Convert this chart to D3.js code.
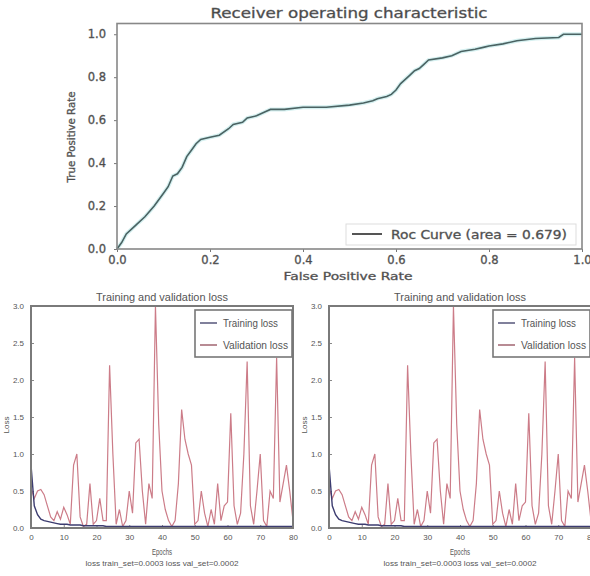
<!DOCTYPE html>
<html>
<head>
<meta charset="utf-8">
<script src="https://cdn.jsdelivr.net/npm/d3@7"></script>
<style>
  body { margin: 0; background: #fff; }
  svg { display: block; }
  .roc text { font-family: "DejaVu Sans", sans-serif; fill: #444; stroke: #666; stroke-width: 0.35; }
  .loss text { font-family: "Liberation Sans", "DejaVu Sans", sans-serif; fill: #555; }
</style>
</head>
<body>
<div id="chart"></div>
<script>
// ROC curve points
const rocFpr = [0, 0.01, 0.02, 0.04, 0.06, 0.08, 0.10, 0.11, 0.12, 0.13, 0.14, 0.15, 0.16, 0.17, 0.18,
  0.20, 0.22, 0.24, 0.25, 0.27, 0.28, 0.30, 0.32, 0.33, 0.36, 0.40, 0.45, 0.50, 0.53, 0.55, 0.56,
  0.58, 0.59, 0.60, 0.61, 0.62, 0.63, 0.64, 0.65, 0.66, 0.67, 0.70, 0.72, 0.74, 0.77, 0.79, 0.80,
  0.83, 0.86, 0.90, 0.95, 0.96, 1.0];
const rocTpr = [0, 0.03, 0.07, 0.11, 0.15, 0.20, 0.26, 0.29, 0.34, 0.35, 0.38, 0.43, 0.46, 0.49, 0.51,
  0.52, 0.53, 0.56, 0.58, 0.59, 0.61, 0.62, 0.64, 0.65, 0.65, 0.66, 0.66, 0.67, 0.68, 0.69, 0.70,
  0.71, 0.72, 0.74, 0.77, 0.79, 0.81, 0.83, 0.84, 0.86, 0.88, 0.89, 0.90, 0.92, 0.93, 0.94, 0.945,
  0.955, 0.97, 0.98, 0.985, 1.0, 1.0];
const rocTicks = [0, 0.2, 0.4, 0.6, 0.8, 1.0];
const rocLabel = "Roc Curve (area = 0.679)";

// loss per epoch (0..80)
const trainLoss = [0.85, 0.30, 0.18, 0.12, 0.10, 0.09, 0.08, 0.07, 0.06, 0.05,
  0.05, 0.05, 0.04, 0.04, 0.04, 0.04, 0.03, 0.03, 0.03, 0.03,
  0.03, 0.03, 0.03, 0.02, 0.02, 0.02, 0.02, 0.02, 0.02, 0.02,
  0.02, 0.02, 0.02, 0.02, 0.02, 0.02, 0.02, 0.02, 0.02, 0.02,
  0.02, 0.02, 0.02, 0.02, 0.02, 0.02, 0.02, 0.02, 0.02, 0.02,
  0.02, 0.02, 0.02, 0.02, 0.02, 0.02, 0.02, 0.02, 0.02, 0.02,
  0.02, 0.02, 0.02, 0.02, 0.02, 0.02, 0.02, 0.02, 0.02, 0.02,
  0.02, 0.02, 0.02, 0.02, 0.02, 0.02, 0.02, 0.02, 0.02, 0.02, 0.02];
const valLoss = [0.55, 0.40, 0.50, 0.52, 0.45, 0.30, 0.15, 0.10, 0.22, 0.12,
  0.28, 0.18, 0.05, 0.85, 1.00, 0.15, 0.02, 0.05, 0.60, 0.05,
  0.10, 0.40, 0.10, 0.10, 2.20, 1.00, 0.05, 0.25, 0.02, 0.10,
  0.50, 0.20, 1.15, 1.20, 0.50, 0.05, 0.60, 0.40, 3.00, 1.40,
  0.50, 0.25, 0.10, 0.02, 0.10, 0.60, 1.60, 1.20, 1.00, 0.85,
  0.05, 0.10, 0.50, 0.20, 0.02, 0.25, 0.05, 0.60, 0.10, 0.30,
  0.35, 1.55, 0.30, 0.05, 0.20, 1.00, 2.25, 0.30, 0.05, 0.50,
  1.00, 0.10, 0.02, 0.50, 0.40, 2.30, 0.35, 0.60, 0.85, 0.50, 0.10];
const epochTicks = [0, 10, 20, 30, 40, 50, 60, 70, 80];
const lossTicks = [0, 0.5, 1.0, 1.5, 2.0, 2.5, 3.0];
const lossSeries = ["Training loss", "Validation loss"];
const lossNote = "loss train_set=0.0003  loss val_set=0.0002";

const svg = d3.select("#chart").append("svg").attr("width", 590).attr("height", 576);

// squeeze/stretch a text to the width seen in the picture
function fit(sel, w) {
  sel.attr("textLength", w).attr("lengthAdjust", "spacingAndGlyphs");
}

// ---------- ROC ----------
const roc = svg.append("g").attr("class", "roc");
const x = d3.scaleLinear().domain([0, 1]).range([117, 582]);
const y = d3.scaleLinear().domain([0, 1.05]).range([249, 23.5]);

roc.append("g")
  .attr("transform", `translate(0,${y(0)})`)
  .call(d3.axisBottom(x).tickValues(rocTicks).tickFormat(d3.format(".1f")).tickSize(3).tickPadding(4))
  .call(g => g.select(".domain").remove())
  .call(g => g.selectAll("line").attr("stroke", "#777"))
  .call(g => g.selectAll("text").attr("font-size", 11.5));

roc.append("g")
  .attr("transform", `translate(${x(0)},0)`)
  .call(d3.axisLeft(y).tickValues(rocTicks).tickFormat(d3.format(".1f")).tickSize(3).tickPadding(8))
  .call(g => g.select(".domain").remove())
  .call(g => g.selectAll("line").attr("stroke", "#777"))
  .call(g => g.selectAll("text").attr("font-size", 11.5));

const rocPts = rocFpr.map((d, i) => [d, rocTpr[i]]);
const rocLine = d3.line().x(d => x(d[0])).y(d => y(d[1]));
roc.append("path").datum(rocPts).attr("d", rocLine)
  .attr("fill", "none").attr("stroke", "#d5f0f0").attr("stroke-width", 4);
roc.append("path").datum(rocPts).attr("d", rocLine)
  .attr("fill", "none").attr("stroke", "#4a6262").attr("stroke-width", 1.6);

roc.append("rect")
  .attr("x", x(0)).attr("y", y(1.05))
  .attr("width", x(1) - x(0)).attr("height", y(0) - y(1.05))
  .attr("fill", "none").attr("stroke", "#888").attr("stroke-width", 1.6);

// legend
const lg = roc.append("g");
lg.append("rect").attr("x", 346).attr("y", 224).attr("width", 230).attr("height", 21)
  .attr("fill", "#fff").attr("stroke", "#ddd").attr("stroke-width", 1);
lg.append("line").attr("x1", 352).attr("x2", 382).attr("y1", 234).attr("y2", 234)
  .attr("stroke", "#555").attr("stroke-width", 2);
lg.append("text").attr("x", 391).attr("y", 238.5).attr("font-size", 11.5)
  .text(rocLabel).call(fit, 176);

roc.append("text").attr("x", 349).attr("y", 18).attr("text-anchor", "middle")
  .attr("font-size", 13.5).text("Receiver operating characteristic").call(fit, 277);
roc.append("text").attr("x", 348).attr("y", 280).attr("text-anchor", "middle")
  .attr("font-size", 11).text("False Positive Rate").call(fit, 129);
roc.append("text").attr("transform", "translate(75,137) rotate(-90)").attr("text-anchor", "middle")
  .attr("font-size", 10).text("True Positive Rate").call(fit, 91);

// ---------- loss panels ----------
function lossPanel(left) {
  const g = svg.append("g").attr("class", "loss");
  const lx = d3.scaleLinear().domain([0, 80]).range([left, left + 262]);
  const ly = d3.scaleLinear().domain([0, 3]).range([528, 306]);

  g.append("g")
    .attr("transform", `translate(0,${ly(0)})`)
    .call(d3.axisBottom(lx).tickValues(epochTicks).tickSize(-3).tickPadding(6))
    .call(a => a.select(".domain").remove())
    .call(a => a.selectAll("line").attr("stroke", "#888"))
    .call(a => a.selectAll("text").attr("font-size", 8).attr("fill", "#666"));

  g.append("g")
    .attr("transform", `translate(${left},0)`)
    .call(d3.axisLeft(ly).tickValues(lossTicks).tickFormat(d3.format(".1f")).tickSize(-3).tickPadding(7))
    .call(a => a.select(".domain").remove())
    .call(a => a.selectAll("line").attr("stroke", "#888"))
    .call(a => a.selectAll("text").attr("font-size", 8).attr("fill", "#666"));

  const line = d3.line().x((d, i) => lx(i)).y(d => ly(d));
  g.append("path").datum(valLoss).attr("d", line)
    .attr("fill", "none").attr("stroke", "#cc7c88").attr("stroke-width", 1.2);
  g.append("path").datum(trainLoss).attr("d", line)
    .attr("fill", "none").attr("stroke", "#3c3c70").attr("stroke-width", 1.4);

  g.append("rect")
    .attr("x", lx(0)).attr("y", ly(3))
    .attr("width", lx(80) - lx(0)).attr("height", ly(0) - ly(3))
    .attr("fill", "none").attr("stroke", "#7a7a7a").attr("stroke-width", 2);

  // legend
  const lx1 = lx(80) - 98;
  g.append("rect").attr("x", lx1).attr("y", 310).attr("width", 97).attr("height", 47)
    .attr("fill", "#fff").attr("stroke", "#777").attr("stroke-width", 1.6);
  const colors = ["#4a4a70", "#9a5a66"];
  const widths = [55, 65];
  lossSeries.forEach((s, i) => {
    const yy = 323 + i * 22;
    g.append("line").attr("x1", lx1 + 5).attr("x2", lx1 + 22).attr("y1", yy).attr("y2", yy)
      .attr("stroke", colors[i]).attr("stroke-width", 1.4);
    g.append("text").attr("x", lx1 + 28).attr("y", yy + 4).attr("font-size", 11)
      .text(s).call(fit, widths[i]);
  });

  const cx = (lx(0) + lx(80)) / 2;
  g.append("text").attr("x", cx).attr("y", 301).attr("text-anchor", "middle")
    .attr("font-size", 11).text("Training and validation loss").call(fit, 132);
  g.append("text").attr("x", cx).attr("y", 555).attr("text-anchor", "middle")
    .attr("font-size", 9).text("Epochs").call(fit, 20);
  g.append("text").attr("x", cx).attr("y", 566).attr("text-anchor", "middle")
    .attr("font-size", 8).text(lossNote).call(fit, 153);
  g.append("text").attr("transform", `translate(${left - 22},425) rotate(-90)`)
    .attr("text-anchor", "middle").attr("font-size", 8).text("Loss");
}

lossPanel(31);
lossPanel(329);
</script>
</body>
</html>
